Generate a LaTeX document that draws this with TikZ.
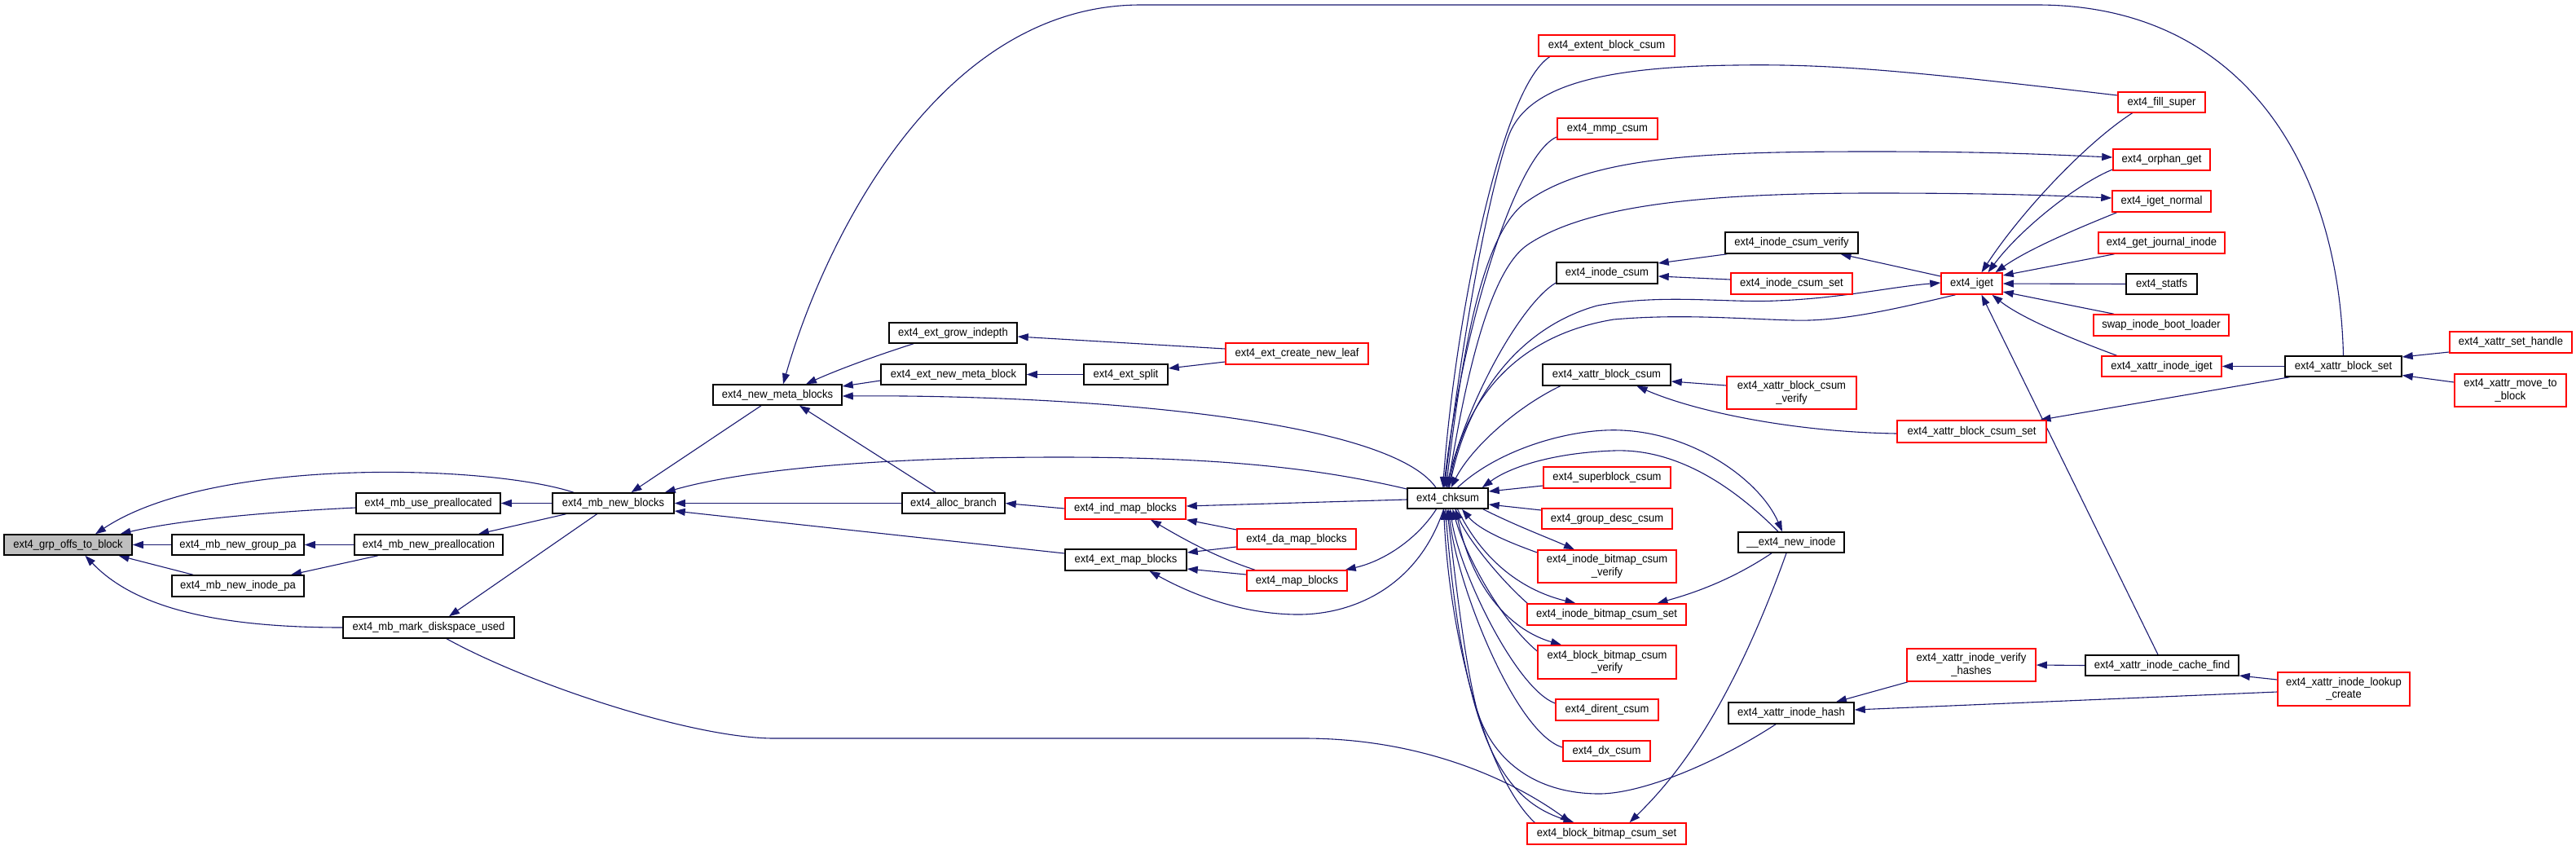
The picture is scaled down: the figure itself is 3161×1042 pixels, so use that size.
\documentclass[tikz,border=0pt]{standalone}
\usepackage{fontspec}
\setmainfont{Liberation Sans}[FakeStretch=0.93]
\usetikzlibrary{arrows.meta}
\definecolor{edgec}{RGB}{25,25,112}
\definecolor{grayfill}{RGB}{191,191,191}
\pgfdeclarelayer{bg}
\pgfsetlayers{bg,main}
\begin{document}
\begin{tikzpicture}[x=1pt,y=-1pt,
  box/.style={draw, line width=1.5pt, fill=white, inner sep=0pt, align=center, font=\fontsize{14}{15.5}\selectfont},
  blk/.style={box, draw=black},
  rd/.style={box, draw=red},
  sz/.style 2 args={minimum width=#1pt, minimum height=#2pt},
  edge/.style={draw=edgec, line width=1.1pt, -{Triangle[length=13pt,width=9pt]}}]
\useasboundingbox (0,0) rectangle (3161,1042);
% nodes
\node[blk, sz={157}{25}, fill=grayfill] (gob) at (83.5,668.5) {ext4\_grp\_offs\_to\_block};
\node[blk, sz={177}{25}] (usepre) at (525.5,617.5) {ext4\_mb\_use\_preallocated};
\node[blk, sz={149}{25}] (mbnb) at (752.5,617.5) {ext4\_mb\_new\_blocks};
\node[blk, sz={162}{25}] (grppa) at (292,668.5) {ext4\_mb\_new\_group\_pa};
\node[blk, sz={182}{25}] (newpre) at (526,668.5) {ext4\_mb\_new\_preallocation};
\node[blk, sz={162}{26}] (inopa) at (292,719) {ext4\_mb\_new\_inode\_pa};
\node[blk, sz={210}{26}] (disk) at (526,770) {ext4\_mb\_mark\_diskspace\_used};
\node[blk, sz={158}{25}] (nmb) at (954,484.5) {ext4\_new\_meta\_blocks};
\node[blk, sz={157}{25}] (grow) at (1169.5,408.5) {ext4\_ext\_grow\_indepth};
\node[blk, sz={178}{25}] (nmblk) at (1170,459.5) {ext4\_ext\_new\_meta\_block};
\node[blk, sz={103}{25}] (split) at (1381.5,459.5) {ext4\_ext\_split};
\node[rd, sz={175}{26}] (leaf) at (1591.5,434) {ext4\_ext\_create\_new\_leaf};
\node[blk, sz={126}{25}] (alloc) at (1170,617.5) {ext4\_alloc\_branch};
\node[rd, sz={148}{26}] (ind) at (1381,624) {ext4\_ind\_map\_blocks};
\node[rd, sz={146}{25}] (da) at (1591,661.5) {ext4\_da\_map\_blocks};
\node[blk, sz={149}{26}] (extmap) at (1381.5,687) {ext4\_ext\_map\_blocks};
\node[rd, sz={123}{25}] (map) at (1591.5,712.5) {ext4\_map\_blocks};
\node[blk, sz={99}{25}] (chksum) at (1776.5,611.5) {ext4\_chksum};
\node[rd, sz={167}{26}] (extent) at (1971.5,56) {ext4\_extent\_block\_csum};
\node[rd, sz={123}{26}] (mmp) at (1972.5,158) {ext4\_mmp\_csum};
\node[blk, sz={124}{26}] (icsum) at (1972,335) {ext4\_inode\_csum};
\node[blk, sz={163}{26}] (icv) at (2198.5,298) {ext4\_inode\_csum\_verify};
\node[rd, sz={149}{26}] (ics) at (2198.5,348) {ext4\_inode\_csum\_set};
\node[rd, sz={75}{26}] (iget) at (2419.5,348) {ext4\_iget};
\node[blk, sz={157}{26}] (xbcsum) at (1971.5,460) {ext4\_xattr\_block\_csum};
\node[rd, sz={159}{40}] (xbcv) at (2198.5,482) {ext4\_xattr\_block\_csum\\\_verify};
\node[rd, sz={183}{27}] (xbcsset) at (2419.5,529.5) {ext4\_xattr\_block\_csum\_set};
\node[rd, sz={156}{26}] (superblock) at (1972,586) {ext4\_superblock\_csum};
\node[rd, sz={160}{25}] (gdesc) at (1972,636.5) {ext4\_group\_desc\_csum};
\node[rd, sz={170}{40}] (ibcv) at (1972,695) {ext4\_inode\_bitmap\_csum\\\_verify};
\node[rd, sz={195}{26}] (ibcs) at (1971.5,754) {ext4\_inode\_bitmap\_csum\_set};
\node[rd, sz={170}{41}] (bbcv) at (1972,812.5) {ext4\_block\_bitmap\_csum\\\_verify};
\node[rd, sz={126}{26}] (dirent) at (1972,871) {ext4\_dirent\_csum};
\node[rd, sz={107}{25}] (dx) at (1971.5,921.5) {ext4\_dx\_csum};
\node[rd, sz={195}{26}] (bbcs) at (1971.5,1023) {ext4\_block\_bitmap\_csum\_set};
\node[blk, sz={130}{25}] (newinode) at (2198,665.5) {\_\_ext4\_new\_inode};
\node[blk, sz={154}{26}] (xih) at (2198,875) {ext4\_xattr\_inode\_hash};
\node[rd, sz={158}{40}] (vh) at (2419,816) {ext4\_xattr\_inode\_verify\\\_hashes};
\node[rd, sz={107}{25}] (fillsuper) at (2652.5,125.5) {ext4\_fill\_super};
\node[rd, sz={119}{26}] (orphan) at (2652.5,196) {ext4\_orphan\_get};
\node[rd, sz={121}{26}] (igetn) at (2652.5,247) {ext4\_iget\_normal};
\node[rd, sz={155}{26}] (journal) at (2652.5,298) {ext4\_get\_journal\_inode};
\node[blk, sz={87}{25}] (statfs) at (2652.5,348.5) {ext4\_statfs};
\node[rd, sz={166}{26}] (swap) at (2652,399) {swap\_inode\_boot\_loader};
\node[rd, sz={147}{25}] (xii) at (2652.5,449.5) {ext4\_xattr\_inode\_iget};
\node[blk, sz={143}{25}] (bs) at (2875.5,449.5) {ext4\_xattr\_block\_set};
\node[rd, sz={150}{26}] (sh) at (3081,420) {ext4\_xattr\_set\_handle};
\node[rd, sz={137}{40}] (mtb) at (3080.5,479) {ext4\_xattr\_move\_to\\\_block};
\node[blk, sz={188}{25}] (cf) at (2653,816.5) {ext4\_xattr\_inode\_cache\_find};
\node[rd, sz={162}{41}] (lc) at (2876,845.5) {ext4\_xattr\_inode\_lookup\\\_create};
% edges
\begin{pgfonlayer}{bg}
\draw[edge] ([xshift=-48.5pt]mbnb.north) .. controls (600,570) and (260,560) .. ([xshift=33.5pt]gob.north);
\draw[edge] ([yshift=-5.5pt]usepre.west) .. controls (330,628) and (220,638) .. ([xshift=64pt]gob.north);
\draw[edge] (grppa.west) -- (gob.east);
\draw[edge] ([xshift=-55pt]inopa.north) -- ([xshift=62pt]gob.south);
\draw[edge] (disk.west) .. controls (250,770) and (160,740) .. ([xshift=21pt]gob.south);
\draw[edge] (mbnb.west) -- (usepre.east);
\draw[edge] (newpre.west) -- (grppa.east);
\draw[edge] ([xshift=-62pt]newpre.south) -- ([xshift=65pt]inopa.north);
\draw[edge] ([xshift=-58pt]mbnb.south) -- ([xshift=61pt]newpre.north);
\draw[edge] ([xshift=-20pt]mbnb.south) -- ([xshift=25pt]disk.north);
\draw[edge] ([xshift=-20pt]nmb.south) -- ([xshift=22pt]mbnb.north);
\draw[edge] ([xshift=-48.5pt]grow.south) .. controls (1070,438) and (1025,455) .. ([xshift=35pt]nmb.north);
\draw[edge] ([yshift=-7.5pt]nmblk.west) -- ([yshift=10.5pt]nmb.east);
\draw[edge] ([xshift=-14.5pt]chksum.north) .. controls (1700,510) and (1300,484) .. ([yshift=-1.5pt]nmb.east);
\draw[edge] ([yshift=11.5pt]chksum.west) .. controls (1620,575) and (1500,561) .. (1300,561) .. controls (1050,561) and (900,580) .. ([xshift=-12pt]mbnb.north east);
\draw[edge] (alloc.west) -- (mbnb.east);
\draw[edge] ([yshift=8pt]extmap.west) -- ([yshift=-9.5pt]mbnb.east);
\draw[edge] ([xshift=-22pt]alloc.north) -- ([xshift=27pt]nmb.south);
\draw[edge] (ind.west) -- (alloc.east);
\draw[edge] ([yshift=11.5pt]da.west) -- (ind.south east);
\draw[edge] ([xshift=-51.5pt]map.north) .. controls (1490,683) and (1450,660) .. ([xshift=31pt]ind.south);
\draw[edge] ([yshift=-9.5pt]da.west) -- ([yshift=9pt]extmap.east);
\draw[edge] ([yshift=7.5pt]map.west) -- ([yshift=-11pt]extmap.east);
\draw[edge] ([xshift=-5pt]chksum.south) .. controls (1740,720) and (1660,755) .. (1590,754) .. controls (1520,753) and (1460,728) .. ([xshift=29pt]extmap.south);
\draw[edge] ([xshift=-14pt]chksum.south) .. controls (1740,660) and (1700,688) .. ([xshift=-3pt]map.north east);
\draw[edge] ([yshift=-1.5pt]chksum.west) -- ([yshift=3pt]ind.east);
\draw[edge] ([yshift=6pt]leaf.west) -- ([yshift=-4.5pt]grow.east);
\draw[edge] ([yshift=-10pt]leaf.west) -- ([yshift=7.5pt]split.east);
\draw[edge] (split.west) -- (nmblk.east);
\draw[edge] (bs.north) .. controls (2870,200) and (2750,6) .. (2500,6) -- (1400,6) .. controls (1150,6) and (1010,300) .. ([xshift=7pt]nmb.north);
% chksum top
\draw[edge] ([xshift=-70pt]extent.south) .. controls (1840,110) and (1785,400) .. ([xshift=-6pt]chksum.north);
\draw[edge] ([yshift=8.5pt]fillsuper.west) .. controls (2350,88) and (2250,78) .. (2130,80) .. controls (1950,82) and (1870,110) .. (1850,170) .. controls (1820,260) and (1790,450) .. ([xshift=-4pt]chksum.north);
\draw[edge] ([xshift=-2pt]chksum.north) .. controls (1795,420) and (1820,290) .. (1870,250) .. controls (1950,190) and (2100,186) .. (2300,186) .. controls (2450,186) and (2520,190) .. ([yshift=3pt]orphan.west);
\draw[edge] (chksum.north) .. controls (1800,450) and (1830,330) .. (1875,300) .. controls (1950,250) and (2100,237) .. (2300,237) .. controls (2450,237) and (2520,240) .. ([yshift=4pt]igetn.west);
\draw[edge] ([yshift=-10pt]mmp.west) .. controls (1860,190) and (1795,400) .. ([xshift=-5pt]chksum.north);
\draw[edge] ([yshift=-12pt]icsum.west) .. controls (1870,370) and (1805,480) .. ([xshift=-2pt]chksum.north);
\draw[edge] ([xshift=2pt]chksum.north) .. controls (1800,480) and (1870,400) .. (1960,375) .. controls (2040,360) and (2120,372) .. (2180,369) .. controls (2260,366) and (2320,352) .. ([yshift=1pt]iget.west);
\draw[edge] ([xshift=-20pt]iget.south) .. controls (2330,378) and (2260,395) .. (2200,393) .. controls (2130,391) and (2060,385) .. (1980,392) .. controls (1870,410) and (1800,480) .. ([xshift=1pt]chksum.north);
\draw[edge] ([xshift=-57pt]xbcsum.south) .. controls (1860,500) and (1805,550) .. ([xshift=4pt]chksum.north);
\draw[edge] ([xshift=12pt]chksum.north) .. controls (1840,550) and (1930,525) .. (1990,528) .. controls (2080,532) and (2160,590) .. ([xshift=-11pt]newinode.north);
\draw[edge] ([xshift=-16pt]newinode.north) .. controls (2130,600) and (2060,550) .. (1980,553) .. controls (1900,556) and (1850,575) .. ([xshift=-8pt]chksum.north east);
\draw[edge] ([yshift=-10pt]superblock.west) -- ([yshift=8.5pt]chksum.east);
\draw[edge] ([yshift=10.5pt]gdesc.west) -- ([yshift=-7.5pt]chksum.east);
% chksum bottom
\draw[edge] ([xshift=-7pt]chksum.south east) .. controls (1860,645) and (1900,660) .. ([xshift=-40pt]ibcv.north);
\draw[edge] ([yshift=17pt]ibcv.west) .. controls (1850,665) and (1815,650) .. ([xshift=17.5pt]chksum.south);
\draw[edge] ([xshift=12pt]chksum.south) .. controls (1820,690) and (1870,725) .. ([xshift=-38pt]ibcs.north);
\draw[edge] ([xshift=1pt]ibcs.north west) .. controls (1840,710) and (1800,660) .. ([xshift=9pt]chksum.south);
\draw[edge] ([xshift=-24pt]newinode.south) .. controls (2120,715) and (2070,730) .. ([xshift=62pt]ibcs.north);
\draw[edge] ([xshift=10pt]chksum.south) .. controls (1805,730) and (1860,775) .. ([xshift=-56pt]bbcv.north);
\draw[edge] ([yshift=13.5pt]bbcv.west) .. controls (1840,760) and (1798,680) .. ([xshift=6pt]chksum.south);
\draw[edge] ([yshift=8pt]dirent.west) .. controls (1860,845) and (1790,700) .. ([xshift=3pt]chksum.south);
\draw[edge] ([yshift=4.5pt]dx.west) .. controls (1860,900) and (1788,720) .. ([xshift=1pt]chksum.south);
\draw[edge] ([xshift=-19pt]xih.south) .. controls (2100,940) and (2010,975) .. (1960,974) .. controls (1880,973) and (1830,930) .. (1812,870) .. controls (1795,800) and (1785,700) .. ([xshift=-1pt]chksum.south);
\draw[edge] ([xshift=-3pt]chksum.south) .. controls (1795,900) and (1840,980) .. ([xshift=-40pt]bbcs.north);
\draw[edge] ([xshift=10pt]bbcs.north west) .. controls (1830,960) and (1780,800) .. ([xshift=-5pt]chksum.south);
\draw[edge] ([xshift=22pt]disk.south) .. controls (650,840) and (850,906) .. (950,906) -- (1600,906) .. controls (1750,906) and (1860,960) .. ([xshift=-44pt]bbcs.north);
\draw[edge] ([xshift=-6pt]newinode.south) .. controls (2120,880) and (2050,960) .. ([xshift=28pt]bbcs.north);
% right part
\draw[edge] ([xshift=2pt]vh.south west) -- ([xshift=55pt]xih.north);
\draw[edge] ([yshift=-3.5pt]lc.west) -- ([yshift=4pt]xih.east);
\draw[edge] (cf.west) -- (vh.east);
\draw[edge] ([yshift=11.5pt]lc.west) -- ([yshift=-12.5pt]cf.east);
\draw[edge] ([xshift=-5pt]cf.north) -- ([xshift=12pt]iget.south);
\draw[edge] ([xshift=-36pt]fillsuper.south) .. controls (2560,175) and (2480,260) .. ([xshift=12pt]iget.north);
\draw[edge] ([yshift=-12pt]orphan.west) .. controls (2550,225) and (2480,280) .. ([xshift=20pt]iget.north);
\draw[edge] ([xshift=-55pt]igetn.south) .. controls (2550,280) and (2490,305) .. ([xshift=29pt]iget.north);
\draw[edge] ([xshift=-58pt]journal.south) -- ([yshift=10pt]iget.east);
\draw[edge] (statfs.west) -- (iget.east);
\draw[edge] ([xshift=-58pt]swap.north) -- ([yshift=-10pt]iget.east);
\draw[edge] ([xshift=-55pt]xii.north) .. controls (2540,415) and (2480,390) .. ([xshift=25pt]iget.south);
\draw[edge] (bs.west) -- (xii.east);
\draw[edge] ([xshift=-66pt]bs.south) -- ([xshift=84pt]xbcsset.north);
\draw[edge] ([yshift=-12pt]sh.west) -- ([yshift=11.5pt]bs.east);
\draw[edge] ([yshift=10pt]mtb.west) -- ([yshift=-11pt]bs.east);
\draw[edge] ([xshift=3pt]icv.south west) -- ([yshift=12pt]icsum.east);
\draw[edge] ([yshift=5pt]ics.west) -- ([yshift=-4pt]icsum.east);
\draw[edge] ([yshift=9pt]iget.west) -- ([xshift=60pt]icv.south);
\draw[edge] ([yshift=9pt]xbcv.west) -- ([yshift=-8pt]xbcsum.east);
\draw[edge] ([yshift=-2.5pt]xbcsset.west) .. controls (2200,530) and (2080,505) .. ([xshift=37pt]xbcsum.south);
\end{pgfonlayer}
\end{tikzpicture}
\end{document}
